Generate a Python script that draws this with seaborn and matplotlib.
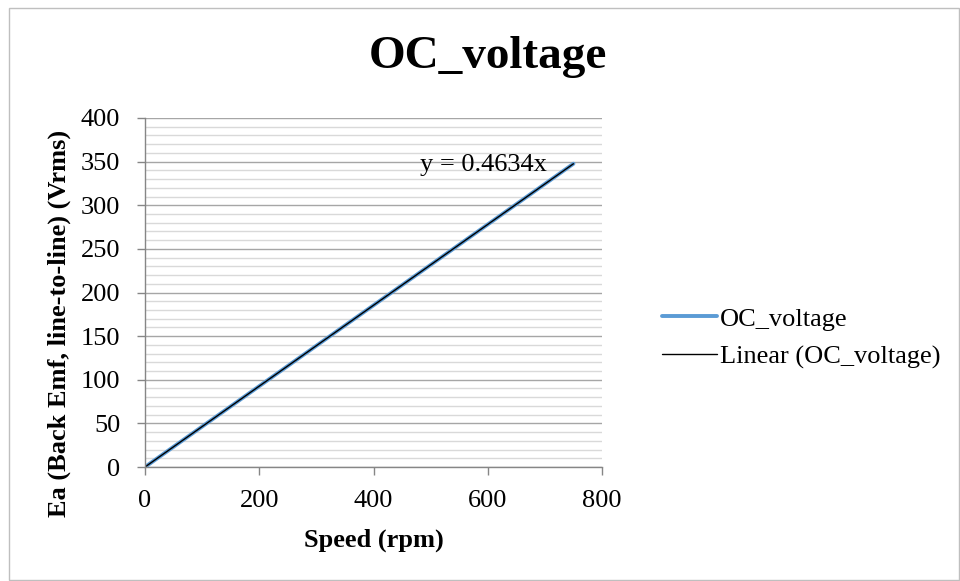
import numpy as np
import pandas as pd
import matplotlib
matplotlib.use("Agg")
import matplotlib.pyplot as plt
import seaborn as sns
from matplotlib.ticker import MultipleLocator

speed = [0, 150, 300, 450, 600, 750]
voltage = [0.0, 69.5, 139.0, 208.5, 278.0, 347.6]
series_name = "OC_voltage"
trend_name = "Linear (OC_voltage)"
equation = "y = 0.4634x"

sns.set_theme(style="white")
plt.rcParams['font.family'] = ['Liberation Serif', 'DejaVu Serif']
plt.rcParams['text.color'] = 'black'
plt.rcParams['axes.labelcolor'] = 'black'

fig = plt.figure(figsize=(9.6, 5.81), dpi=100)
ax = fig.add_axes([145/960, 1-467/581, 457/960, 349/581])

df = pd.DataFrame({"speed": speed, "voltage": voltage})
sns.lineplot(data=df, x="speed", y="voltage", ax=ax, color="#5B9BD5", linewidth=2.8,
             label=series_name)
# linear trendline through origin
x = np.array(speed, dtype=float)
yv = np.array(voltage, dtype=float)
slope = (x @ yv) / (x @ x)
tx = np.array([0, max(speed)])
sns.lineplot(x=tx, y=slope*tx, ax=ax, color="black", linewidth=1.0, label=trend_name)

ax.set_xlim(0, 800)
ax.set_ylim(0, 400)
ax.xaxis.set_major_locator(MultipleLocator(200))
ax.yaxis.set_major_locator(MultipleLocator(50))
ax.yaxis.set_minor_locator(MultipleLocator(10))
ax.grid(which="major", axis="y", color="#A6A6A6", linewidth=1.0)
ax.grid(which="minor", axis="y", color="#D9D9D9", linewidth=1.0)
ax.grid(False, axis="x")
ax.set_axisbelow(True)
for s in ["top", "right"]:
    ax.spines[s].set_visible(False)
for s in ["left", "bottom"]:
    ax.spines[s].set_color("#868686")
    ax.spines[s].set_linewidth(1.0)
ax.tick_params(axis="both", which="major", direction="out", length=5.8, width=1,
               color="#868686", labelsize=19, labelcolor="black", bottom=True, left=True)
ax.tick_params(axis="y", which="minor", left=False)
ax.tick_params(axis="x", pad=11)
ax.tick_params(axis="y", pad=12)

ax.set_xlabel("Speed (rpm)", fontsize=19, fontweight="bold", color="black")
ax.xaxis.set_label_coords(0.5, -(540-467)/349, transform=ax.transAxes)
ax.xaxis.label.set_va("center")
ax.set_ylabel("Ea (Back Emf, line-to-line) (Vrms)", fontsize=19, fontweight="bold",
              color="black")
ax.yaxis.label.set_va("center")
ax.yaxis.label.set_ha("center")
ax.yaxis.set_label_coords(59/960, 1-323/581, transform=fig.transFigure)

fig.text(488/960, 1-57/581, "OC_voltage", fontsize=34, fontweight="bold",
         ha="center", va="center", color="black")
ax.text(592, 346, equation, fontsize=19, ha="center", va="center", color="black")

leg = ax.legend(loc="center left", bbox_to_anchor=(662/960, 1-338/581),
                bbox_transform=fig.transFigure, frameon=False, borderaxespad=0,
                borderpad=0, fontsize=19, handlelength=2.1, handletextpad=0.1,
                labelspacing=0.55)
for t in leg.get_texts():
    t.set_color("black")

fig.patches.append(matplotlib.patches.Rectangle((9/960, 1/581), 950/960, 572/581,
                   transform=fig.transFigure, fill=False, edgecolor="#BFBFBF", linewidth=1))

fig.savefig("out.png", dpi=100)
